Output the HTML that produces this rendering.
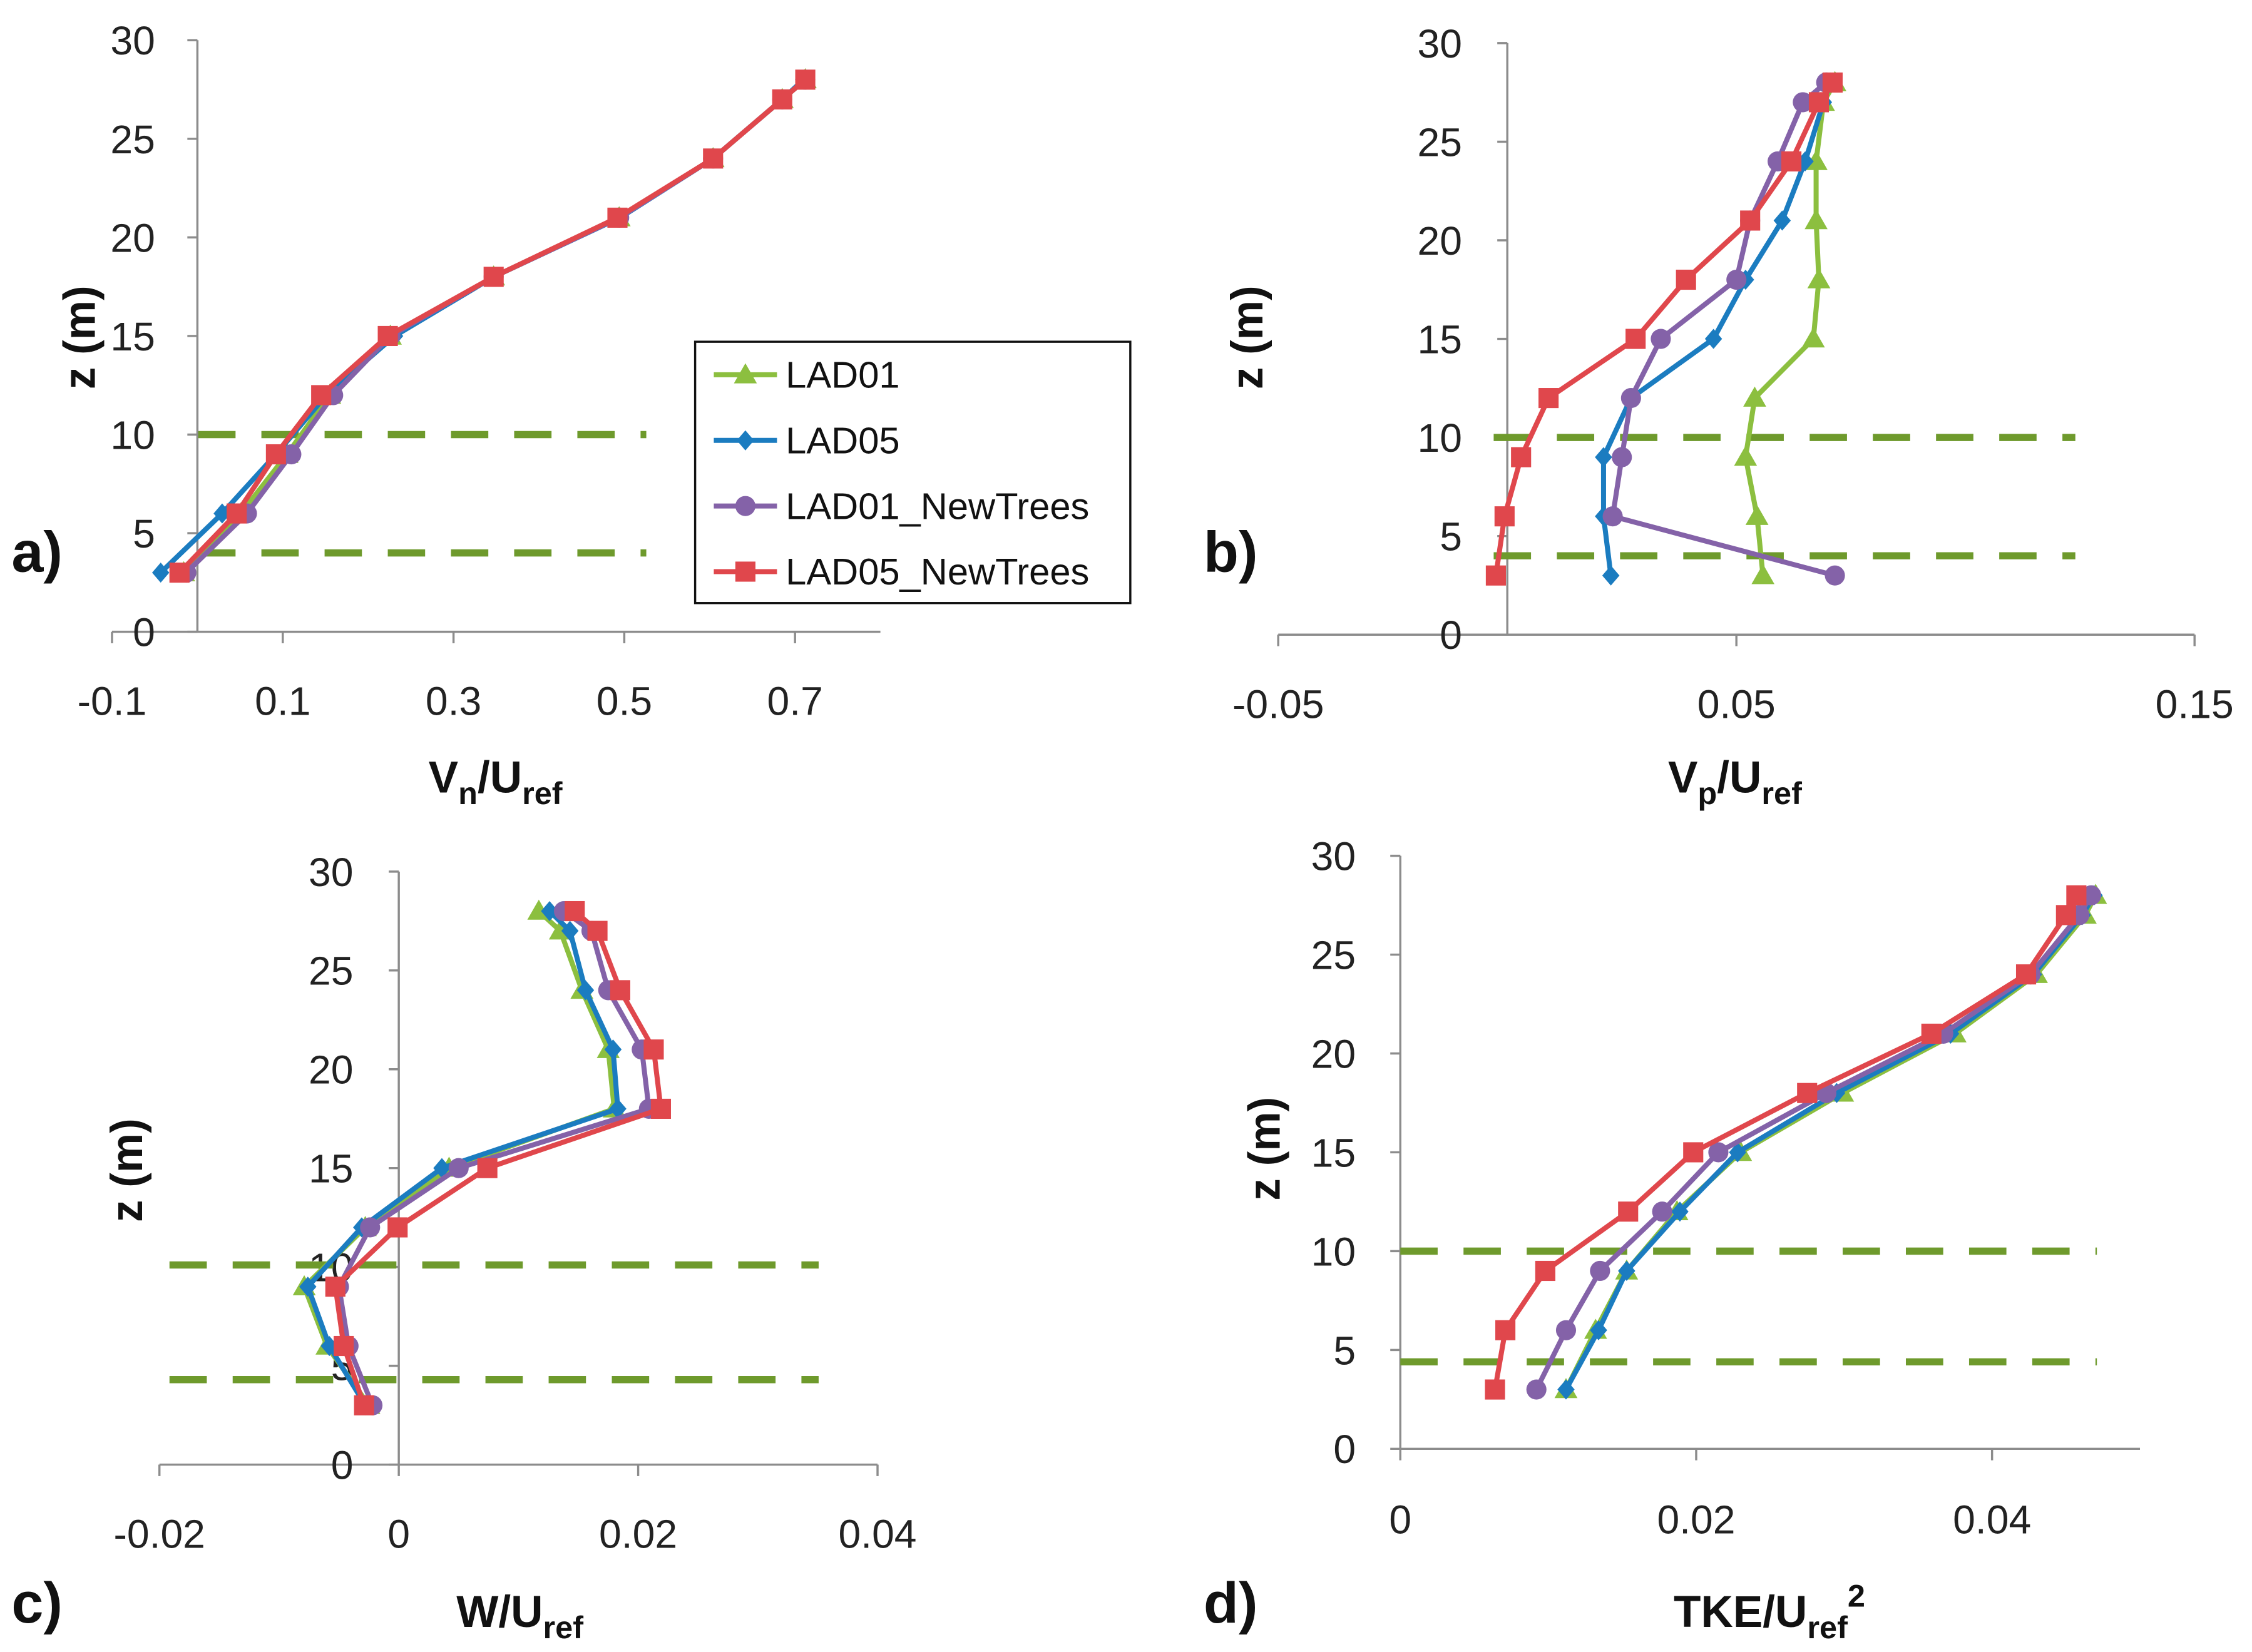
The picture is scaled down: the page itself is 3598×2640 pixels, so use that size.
<!DOCTYPE html>
<html><head><meta charset="utf-8">
<style>
html,body{margin:0;padding:0;background:#fff;}
svg{display:block;font-family:"Liberation Sans",Arial,sans-serif;}
</style></head>
<body>
<svg id="fig" width="3598" height="2640" viewBox="0 0 1568 1150.5" xmlns="http://www.w3.org/2000/svg"></svg>
<script>
// Shared heights (z in m)
const zLevels = [3, 6, 9, 12, 15, 18, 21, 24, 27, 28];
const seriesNames = ["LAD01", "LAD05", "LAD01_NewTrees", "LAD05_NewTrees"];

// Panel a: Vn/Uref
const aLAD01 = [-0.016, 0.051, 0.105, 0.155, 0.226, 0.347, 0.494, 0.604, 0.685, 0.712];
const aLAD05 = [-0.043, 0.029, 0.092, 0.151, 0.231, 0.347, 0.495, 0.604, 0.685, 0.710];
const aLAD01NT = [-0.013, 0.058, 0.110, 0.159, 0.226, 0.347, 0.494, 0.604, 0.685, 0.712];
const aLAD05NT = [-0.021, 0.046, 0.092, 0.145, 0.223, 0.347, 0.492, 0.604, 0.685, 0.712];
const aTicks = ["-0.1", "0.1", "0.3", "0.5", "0.7"];

// Panel b: Vp/Uref
const bLAD01 = [0.0558, 0.0545, 0.052, 0.054, 0.0668, 0.068, 0.0674, 0.0674, 0.069, 0.0715];
const bLAD05 = [0.0226, 0.021, 0.021, 0.027, 0.045, 0.052, 0.060, 0.065, 0.069, 0.0705];
const bLAD01NT = [0.0715, 0.023, 0.025, 0.027, 0.0335, 0.050, 0.053, 0.059, 0.0645, 0.0696];
const bLAD05NT = [-0.0025, -0.0006, 0.003, 0.009, 0.028, 0.039, 0.053, 0.062, 0.068, 0.071];
const bTicks = ["-0.05", "0.05", "0.15"];

// Panel c: W/Uref
const cLAD01 = [-0.0025, -0.006, -0.0079, -0.0028, 0.0042, 0.018, 0.0175, 0.0153, 0.0135, 0.0117];
const cLAD05 = [-0.0028, -0.0058, -0.0076, -0.0031, 0.0036, 0.0183, 0.0179, 0.0156, 0.0143, 0.0126];
const cLAD01NT = [-0.0022, -0.0042, -0.0050, -0.0024, 0.0050, 0.0209, 0.0203, 0.0175, 0.0161, 0.0138];
const cLAD05NT = [-0.0029, -0.0046, -0.0053, -0.0001, 0.0074, 0.0219, 0.0213, 0.0185, 0.0166, 0.0147];
const cTicks = ["-0.02", "0", "0.02", "0.04"];

// Panel d: TKE/Uref^2
const dLAD01 = [0.0112, 0.0132, 0.0153, 0.0187, 0.0230, 0.0299, 0.0375, 0.0430, 0.0463, 0.0470];
const dLAD05 = [0.0112, 0.0134, 0.0153, 0.0189, 0.0228, 0.0295, 0.0372, 0.0428, 0.0461, 0.0469];
const dLAD01NT = [0.0092, 0.0112, 0.0135, 0.0177, 0.0215, 0.0288, 0.0367, 0.0426, 0.0459, 0.0467];
const dLAD05NT = [0.0064, 0.0071, 0.0098, 0.0154, 0.0198, 0.0275, 0.0359, 0.0423, 0.0450, 0.0457];
const dTicks = ["0", "0.02", "0.04"];

const yTicks = ["0", "5", "10", "15", "20", "25", "30"];
const colors = ["#8cbf3f", "#1b7cc0", "#8462a8", "#e0474c"];
const markers = ["tri", "dia", "circ", "sq"];

const NS = "http://www.w3.org/2000/svg";
const svg = document.getElementById("fig");
function mk(tag, attrs, parent) {
  const e = document.createElementNS(NS, tag);
  for (const k in attrs) e.setAttribute(k, attrs[k]);
  (parent || svg).appendChild(e);
  return e;
}

const panels = [
  {id: "a", x0: -0.1, x1: 0.8, px0: 78, px1: 613, yAxisVal: 0, yTop: 28, yBot: 440,
   ticks: aTicks, tickY: 498, data: [aLAD01, aLAD05, aLAD01NT, aLAD05NT],
   dash: [[10, 138, 450], [4, 138, 450]], yLabX: 108, zTitle: [55, 235], title: ["V", "n", "/U", "ref"], titleX: 345, titleY: 552,
   letter: [8, 398]},
  {id: "b", x0: -0.05, x1: 0.15, px0: 890, px1: 1528, yAxisVal: 0, yTop: 30, yBot: 442,
   ticks: bTicks, tickY: 500, data: [bLAD01, bLAD05, bLAD01NT, bLAD05NT],
   dash: [[10, 1040, 1445], [4, 1040, 1445]], yLabX: 1018, zTitle: [868, 235], title: ["V", "p", "/U", "ref"], titleX: 1208, titleY: 552,
   letter: [838, 398]},
  {id: "c", x0: -0.02, x1: 0.04, px0: 111, px1: 611, yAxisVal: 0, yTop: 607, yBot: 1020,
   ticks: cTicks, tickY: 1078, data: [cLAD01, cLAD05, cLAD01NT, cLAD05NT],
   dash: [[10.1, 118, 570], [4.3, 118, 570]], yLabX: 246, zTitle: [88, 815], title: ["W/U", "ref"], titleX: 362, titleY: 1133,
   letter: [8, 1130]},
  {id: "d", x0: 0, x1: 0.05, px0: 975, px1: 1490, yAxisVal: 0, yTop: 596, yBot: 1009,
   ticks: dTicks, tickY: 1068, data: [dLAD01, dLAD05, dLAD01NT, dLAD05NT],
   dash: [[10, 975, 1460], [4.4, 975, 1460]], yLabX: 944, zTitle: [880, 800], title: ["TKE/U", "ref", "2"], titleX: 1232, titleY: 1133,
   letter: [838, 1130]}
];

function marker(g, type, x, y, col) {
  let m;
  if (type === "tri") m = mk("polygon", {points: `${x},${y-8} ${x+8},${y+6} ${x-8},${y+6}`, fill: col}, g);
  else if (type === "dia") m = mk("polygon", {points: `${x},${y-7} ${x+6},${y} ${x},${y+7} ${x-6},${y}`, fill: col}, g);
  else if (type === "circ") m = mk("circle", {cx: x, cy: y, r: 7, fill: col}, g);
  else m = mk("rect", {x: x-7, y: y-7, width: 14, height: 14, fill: col}, g);
  return m;
}

panels.forEach(p => {
  const g = mk("g", {});
  
  
  const X = v => p.px0 + (v - p.x0) / (p.x1 - p.x0) * (p.px1 - p.px0);
  const Y = z => p.yBot - z / 30 * (p.yBot - p.yTop);
  const ax = X(p.yAxisVal);
  // axes
  const xa = mk("line", {x1: p.px0, y1: p.yBot, x2: p.px1, y2: p.yBot, stroke: "#8c8c8c", "stroke-width": 1.5}, g);
  
  
  const ya = mk("line", {x1: ax, y1: p.yTop, x2: ax, y2: p.yBot, stroke: "#8c8c8c", "stroke-width": 1.5}, g);
  
  
  // x ticks
  const n = p.ticks.length;
  p.ticks.forEach((t, i) => {
    const v = parseFloat(t);
    const x = X(v);
    mk("line", {x1: x, y1: p.yBot, x2: x, y2: p.yBot + 8, stroke: "#8c8c8c", "stroke-width": 1.5}, g);
    const tx = mk("text", {x: x, y: p.tickY, "font-size": 28, "text-anchor": "middle", fill: "#222"}, g);
    tx.textContent = t;
    
    
  });
  // extra minor ticks for a (0.1 step)
  // y ticks
  yTicks.forEach(t => {
    const y = Y(parseFloat(t));
    mk("line", {x1: ax - 7, y1: y, x2: ax, y2: y, stroke: "#8c8c8c", "stroke-width": 1.5}, g);
    const tx = mk("text", {x: p.yLabX, y: y + 10, "font-size": 28, "text-anchor": "end", fill: "#222"}, g);
    tx.textContent = t;
    
    
  });
  // dashed lines
  p.dash.forEach(d => {
    const dl = mk("line", {x1: d[1], y1: Y(d[0]), x2: d[2], y2: Y(d[0]), stroke: "#6e9a2c", "stroke-width": 5, "stroke-dasharray": "26,18"}, g);
    
    
  });
  // series
  p.data.forEach((arr, si) => {
    const sg = mk("g", {}, g);
    
    
    const pts = arr.map((v, i) => X(v) + "," + Y(zLevels[i])).join(" ");
    mk("polyline", {points: pts, fill: "none", stroke: colors[si], "stroke-width": 3.5, "stroke-linejoin": "round"}, sg);
    arr.forEach((v, i) => {
      const m = marker(sg, markers[si], X(v), Y(zLevels[i]), colors[si]);
      
      
    });
  });
  // z title
  const zt = mk("text", {x: p.zTitle[0], y: p.zTitle[1], "font-size": 31, "font-weight": "bold", "text-anchor": "middle", transform: `rotate(-90 ${p.zTitle[0]} ${p.zTitle[1]})`, dy: 11, fill: "#111"}, g);
  zt.textContent = "z (m)";
  
  
  // x title
  const xt = mk("text", {x: p.titleX, y: p.titleY, "font-size": 31, "font-weight": "bold", "text-anchor": "middle", fill: "#111"}, g);
  
  
  const parts = p.title;
  if (parts.length === 4) {
    xt.appendChild(document.createTextNode(parts[0]));
    const s1 = mk("tspan", {"font-size": 22, dy: 8}, xt); s1.textContent = parts[1];
    const s2 = mk("tspan", {dy: -8}, xt); s2.textContent = parts[2];
    const s3 = mk("tspan", {"font-size": 22, dy: 8}, xt); s3.textContent = parts[3];
  } else if (parts.length === 2) {
    xt.appendChild(document.createTextNode(parts[0]));
    const s1 = mk("tspan", {"font-size": 22, dy: 8}, xt); s1.textContent = parts[1];
  } else {
    xt.appendChild(document.createTextNode(parts[0]));
    const s1 = mk("tspan", {"font-size": 22, dy: 8}, xt); s1.textContent = parts[1];
    const s2 = mk("tspan", {"font-size": 22, dy: -22}, xt); s2.textContent = parts[2];
  }
  // panel letter
  const lt = mk("text", {x: p.letter[0], y: p.letter[1], "font-size": 40, "font-weight": "bold", fill: "#111"}, g);
  lt.textContent = p.id + ")";
  
  
});

// Legend
const lg = mk("g", {});


mk("rect", {x: 484, y: 238, width: 303, height: 182, fill: "#fff", stroke: "#111", "stroke-width": 1.5}, lg);
seriesNames.forEach((nm, i) => {
  const y = 261 + i * 45.7;
  const eg = mk("g", {}, lg);
  
  
  mk("line", {x1: 497, y1: y, x2: 541, y2: y, stroke: colors[i], "stroke-width": 3.5}, eg);
  marker(eg, markers[i], 519, y, colors[i]);
  const t = mk("text", {x: 547, y: y + 9, "font-size": 26, fill: "#111"}, eg);
  t.textContent = nm;
});
</script>
</body></html>
